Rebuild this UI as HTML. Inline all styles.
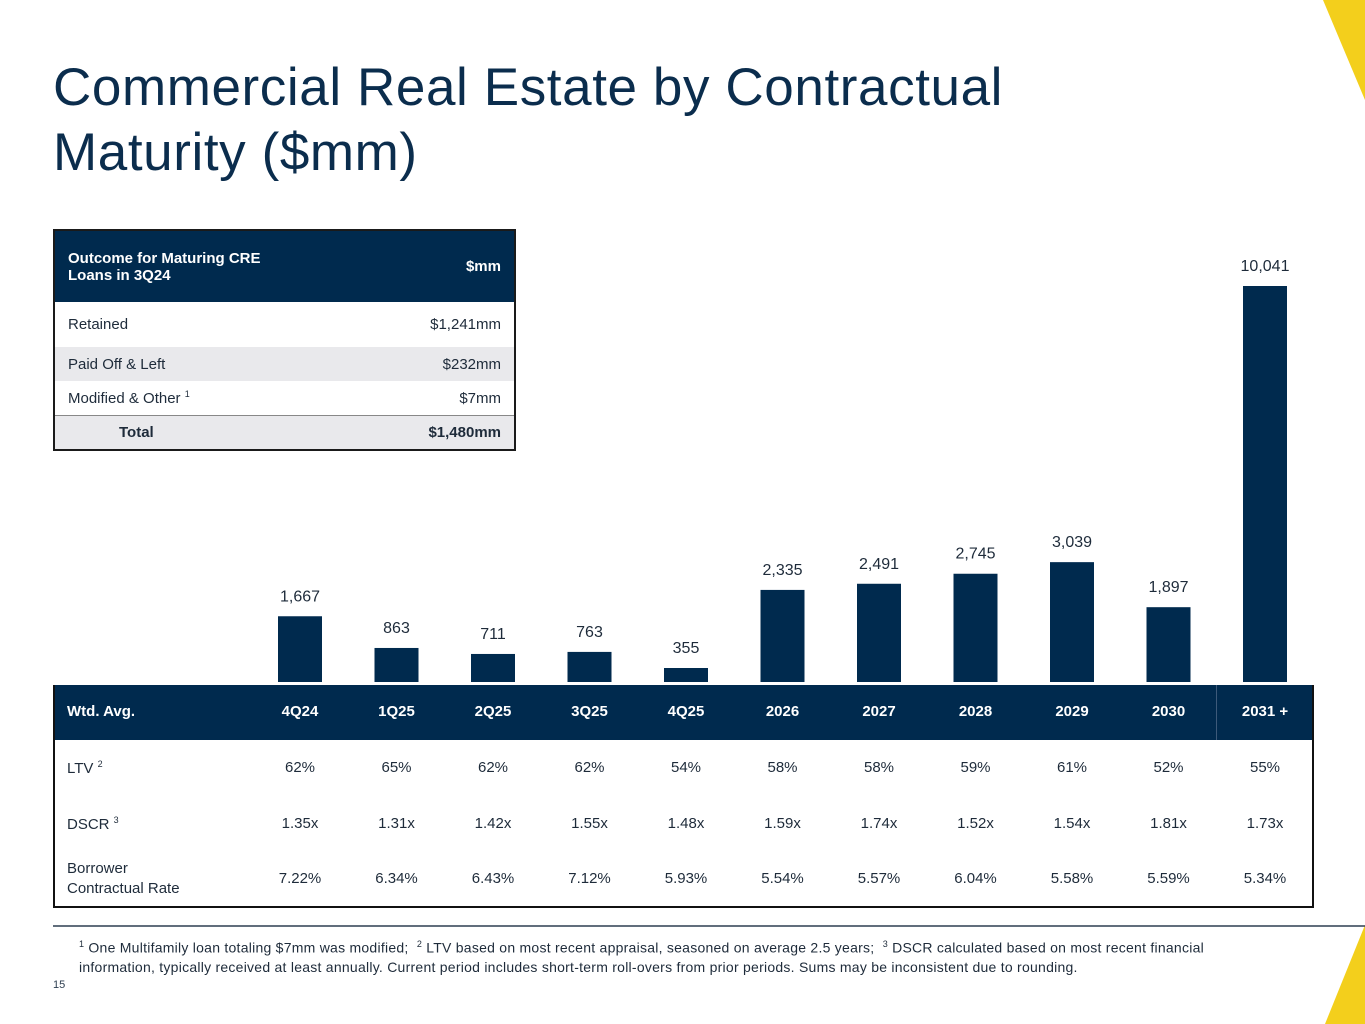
<!DOCTYPE html>
<html><head><meta charset="utf-8"><style>
*{margin:0;padding:0;box-sizing:border-box}
body{width:1365px;height:1024px;position:relative;background:#fff;font-family:"Liberation Sans",sans-serif;color:#1e2b3a;overflow:hidden}
.abs{position:absolute}
h1{position:absolute;left:53px;top:55px;font-size:53px;font-weight:normal;line-height:65px;color:#0b2d4d;letter-spacing:0.6px}
.ot{position:absolute;left:53px;top:229px;width:463px;border:2px solid #1a1a1a;font-size:15px}
.ot div.r{height:34px;display:flex;justify-content:space-between;align-items:center;padding:0 13px}
.hd{background:#002a4e;color:#fff;font-weight:bold;height:71px!important}
.gr{background:#e9e9ec}
.mt{position:absolute;left:53px;top:685px;width:1261px;height:223px;border:2px solid #111;border-top:none}
.cell{position:absolute;transform:translateX(-50%);font-size:15px;white-space:nowrap}
</style></head><body>
<svg class="abs" style="left:0;top:0" width="1365" height="1024">
<polygon points="1323,0 1365,0 1365,100" fill="#f3cf1c"/>
<polygon points="1325,1024 1365,925 1365,1024" fill="#f3cf1c"/>
<line x1="53" y1="926" x2="1365" y2="926" stroke="#2d3e50" stroke-width="1.5"/>
</svg>
<h1>Commercial Real Estate by Contractual<br>Maturity ($mm)</h1>
<div class="ot">
<div class="r hd"><span>Outcome for Maturing CRE<br>Loans in 3Q24</span><span>$mm</span></div>
<div class="r" style="height:45px"><span>Retained</span><span>$1,241mm</span></div>
<div class="r gr"><span>Paid Off &amp; Left</span><span>$232mm</span></div>
<div class="r"><span>Modified &amp; Other <sup style="font-size:9px">1</sup></span><span>$7mm</span></div>
<div class="r gr" style="font-weight:bold;border-top:1px solid #888;padding-left:64px"><span>Total</span><span>$1,480mm</span></div>
</div>
<svg id="chart" class="abs" style="left:0;top:0" width="1365" height="685"></svg>
<div class="abs" style="left:53px;top:685px;width:1261px;height:55px;background:#002a4e"></div>
<div class="abs" style="left:1216px;top:685px;width:1px;height:55px;background:#3d5a7a"></div>
<div class="mt"></div>
<div id="cells"></div>
<div class="abs" style="left:79px;top:935px;font-size:14px;line-height:19px;color:#1e2b3a;white-space:nowrap;letter-spacing:0.25px"><sup style="font-size:9px">1</sup> One Multifamily loan totaling $7mm was modified;&nbsp; <sup style="font-size:9px">2</sup> LTV based on most recent appraisal, seasoned on average 2.5 years;&nbsp; <sup style="font-size:9px">3</sup> DSCR calculated based on most recent financial<br>information, typically received at least annually. Current period includes short-term roll-overs from prior periods. Sums may be inconsistent due to rounding.</div>
<div class="abs" style="left:53px;top:979px;font-size:11px;color:#2d3e50">15</div>
<script>
const categories=["4Q24","1Q25","2Q25","3Q25","4Q25","2026","2027","2028","2029","2030","2031 +"];
const balances=[1667,863,711,763,355,2335,2491,2745,3039,1897,10041];
const balanceLabels=["1,667","863","711","763","355","2,335","2,491","2,745","3,039","1,897","10,041"];
const ltv=["62%","65%","62%","62%","54%","58%","58%","59%","61%","52%","55%"];
const dscr=["1.35x","1.31x","1.42x","1.55x","1.48x","1.59x","1.74x","1.52x","1.54x","1.81x","1.73x"];
const rate=["7.22%","6.34%","6.43%","7.12%","5.93%","5.54%","5.57%","6.04%","5.58%","5.59%","5.34%"];
const x0=300,step=96.5,baseY=682,maxV=10041,maxH=396,bw=44;
const xs=i=>x0+i*step;
const ys=v=>baseY-v/maxV*maxH;
const svg=document.getElementById('chart');
const NS="http://www.w3.org/2000/svg";
balances.forEach((v,i)=>{
 const r=document.createElementNS(NS,'rect');
 r.setAttribute('x',xs(i)-bw/2);r.setAttribute('y',ys(v));r.setAttribute('width',bw);r.setAttribute('height',baseY-ys(v));r.setAttribute('fill','#002a4e');
 
 
 svg.appendChild(r);
 const t=document.createElementNS(NS,'text');
 t.setAttribute('x',xs(i));t.setAttribute('y',ys(v)-15);t.setAttribute('text-anchor','middle');t.setAttribute('font-size','16');t.setAttribute('fill','#1e2b3a');t.setAttribute('font-family','Liberation Sans, sans-serif');
 t.textContent=balanceLabels[i];
 
 
 svg.appendChild(t);
});
const cells=document.getElementById('cells');
function cell(txt,x,y,bold,color,name,left){
 const d=document.createElement('div');
 d.className='cell';d.textContent=txt;d.style.left=x+'px';d.style.top=y+'px';
 if(left)d.style.transform='none';
 if(bold)d.style.fontWeight='bold';if(color)d.style.color=color;
 
 
 cells.appendChild(d);return d;
}
cell('Wtd. Avg.',67,703,true,'#fff','header-wtd-avg',true);
const lt=cell('LTV ',67,759,false,null,'row-label-ltv',true);lt.innerHTML='LTV <sup style="font-size:9px">2</sup>';
const ds=cell('DSCR ',67,815,false,null,'row-label-dscr',true);ds.innerHTML='DSCR <sup style="font-size:9px">3</sup>';
const br=cell('',67,859,false,null,'row-label-rate',true);br.innerHTML='Borrower<br>Contractual Rate';br.style.lineHeight='20px';
categories.forEach((c,i)=>{
 cell(c,xs(i),703,true,'#fff','header-'+c.replace(/\W+/g,''));
 cell(ltv[i],xs(i),759,false,null,'ltv-value');
 cell(dscr[i],xs(i),815,false,null,'dscr-value');
 cell(rate[i],xs(i),870,false,null,'rate-value');
});
</script>
</body></html>
